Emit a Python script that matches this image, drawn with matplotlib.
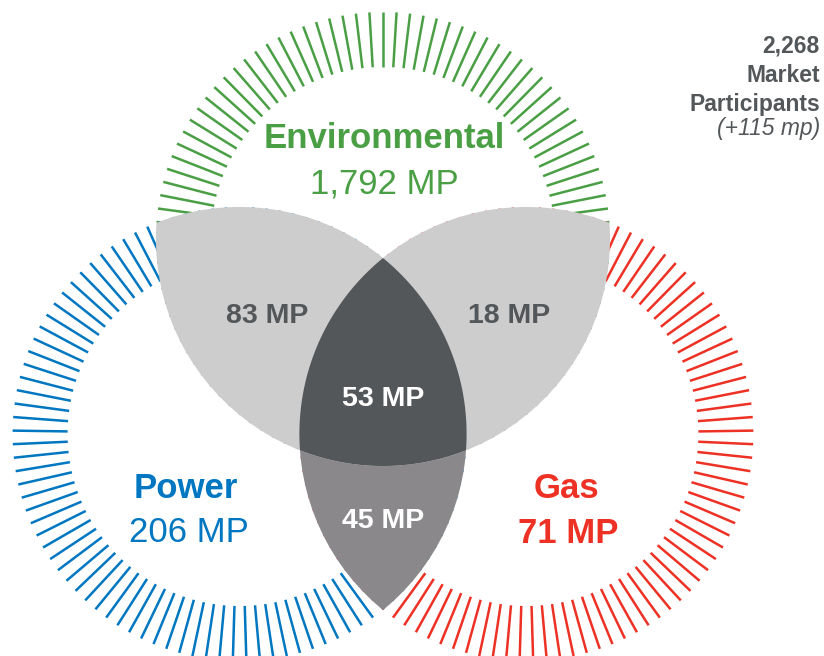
import numpy as np
import matplotlib
matplotlib.use("Agg")
import matplotlib.pyplot as plt
from matplotlib.collections import LineCollection
from matplotlib.patches import Polygon

plt.rcParams['font.family'] = ['Liberation Sans', 'DejaVu Sans']

# ---- data ----
set_names = ["Environmental", "Power", "Gas"]
set_counts = ["1,792 MP", "206 MP", "71 MP"]
set_colors = ["#4a9f45", "#0077c0", "#ed3124"]
pair_labels = ["83 MP", "18 MP", "45 MP"]   # Env&Power, Env&Gas, Power&Gas
triple_label = "53 MP"
total_lines = ["2,268", "Market", "Participants"]
total_note = "(+115 mp)"

# ---- geometry (pixel coordinates) ----
R_OUT, R_IN = 227, 172
centers = {"env": (383.0, 239.0), "pow": (239.6, 434.0), "gas": (526.4, 434.0)}
N_TICKS = 105

W, H = 824, 656
fig = plt.figure(figsize=(W / 100, H / 100), dpi=100)
ax = fig.add_axes([0, 0, 1, 1])
ax.set_xlim(0, W)
ax.set_ylim(H, 0)
ax.set_aspect('equal')
ax.axis('off')


def circle_poly(c, r, n=720):
    t = np.linspace(0, 2 * np.pi, n, endpoint=False)
    return np.column_stack([c[0] + r * np.cos(t), c[1] + r * np.sin(t)])


def clip(subject, clipper):
    # Sutherland-Hodgman, clipper convex
    out = list(map(tuple, subject))
    cl = list(map(tuple, clipper))
    for i in range(len(cl)):
        a = cl[i]
        b = cl[(i + 1) % len(cl)]
        inp = out
        out = []
        if not inp:
            break

        def inside(p):
            return (b[0] - a[0]) * (p[1] - a[1]) - (b[1] - a[1]) * (p[0] - a[0]) >= 0

        def inter(p, q):
            x1, y1 = p; x2, y2 = q; x3, y3 = a; x4, y4 = b
            den = (x1 - x2) * (y3 - y4) - (y1 - y2) * (x3 - x4)
            t = ((x1 - x3) * (y3 - y4) - (y1 - y3) * (x3 - x4)) / den
            return (x1 + t * (x2 - x1), y1 + t * (y2 - y1))

        s = inp[-1]
        for e in inp:
            if inside(e):
                if not inside(s):
                    out.append(inter(s, e))
                out.append(e)
            elif inside(s):
                out.append(inter(s, e))
            s = e
    return np.array(out)


# ---- tick rings ----
keys = ["env", "pow", "gas"]
for k, col in zip(keys, set_colors):
    cx, cy = centers[k]
    ang = np.pi / 2 + np.arange(N_TICKS) * 2 * np.pi / N_TICKS
    segs = [[(cx + R_IN * np.cos(a), cy - R_IN * np.sin(a)),
             (cx + R_OUT * np.cos(a), cy - R_OUT * np.sin(a))] for a in ang]
    ax.add_collection(LineCollection(segs, colors=col, linewidths=1.8,
                                     capstyle='butt', zorder=1))

# ---- overlap regions ----
P = {k: circle_poly(centers[k], R_OUT) for k in keys}
pg = clip(P["pow"], P["gas"])
ep = clip(P["env"], P["pow"])
eg = clip(P["env"], P["gas"])
epg = clip(pg, P["env"])
ax.add_patch(Polygon(pg, closed=True, fc="#8a888b", ec="none", zorder=2))
ax.add_patch(Polygon(ep, closed=True, fc="#cdcdcd", ec="none", zorder=3))
ax.add_patch(Polygon(eg, closed=True, fc="#cdcdcd", ec="none", zorder=3))
ax.add_patch(Polygon(epg, closed=True, fc="#54575a", ec="none", zorder=4))

# ---- labels ----
ax.text(384, 148, set_names[0], color=set_colors[0], fontsize=25, fontweight='bold',
        ha='center', va='baseline', zorder=5)
ax.text(384, 193, set_counts[0], color=set_colors[0], fontsize=25,
        ha='center', va='baseline', zorder=5)
ax.text(186, 498, set_names[1], color=set_colors[1], fontsize=25, fontweight='bold',
        ha='center', va='baseline', zorder=5)
ax.text(189, 542, set_counts[1], color=set_colors[1], fontsize=25,
        ha='center', va='baseline', zorder=5)
ax.text(566, 498, set_names[2], color=set_colors[2], fontsize=25, fontweight='bold',
        ha='center', va='baseline', zorder=5)
ax.text(568, 543, set_counts[2], color=set_colors[2], fontsize=25, fontweight='bold',
        ha='center', va='baseline', zorder=5)

ax.text(267.5, 323, pair_labels[0], color="#54575a", fontsize=20.5, fontweight='bold',
        ha='center', va='baseline', zorder=5)
ax.text(509, 323, pair_labels[1], color="#54575a", fontsize=20.5, fontweight='bold',
        ha='center', va='baseline', zorder=5)
ax.text(383.5, 528, pair_labels[2], color="white", fontsize=20.5, fontweight='bold',
        ha='center', va='baseline', zorder=5)
ax.text(383.5, 406, triple_label, color="white", fontsize=20.5, fontweight='bold',
        ha='center', va='baseline', zorder=5)

for txt, yb in zip(total_lines, [53, 82, 111]):
    ax.text(820, yb, txt, color="#54575a", fontsize=16.5, fontweight='bold',
            ha='right', va='baseline', zorder=5)
ax.text(820, 135, total_note, color="#54575a", fontsize=16.5, fontstyle='italic',
        ha='right', va='baseline', zorder=5)

fig.savefig("out.png", dpi=100)
